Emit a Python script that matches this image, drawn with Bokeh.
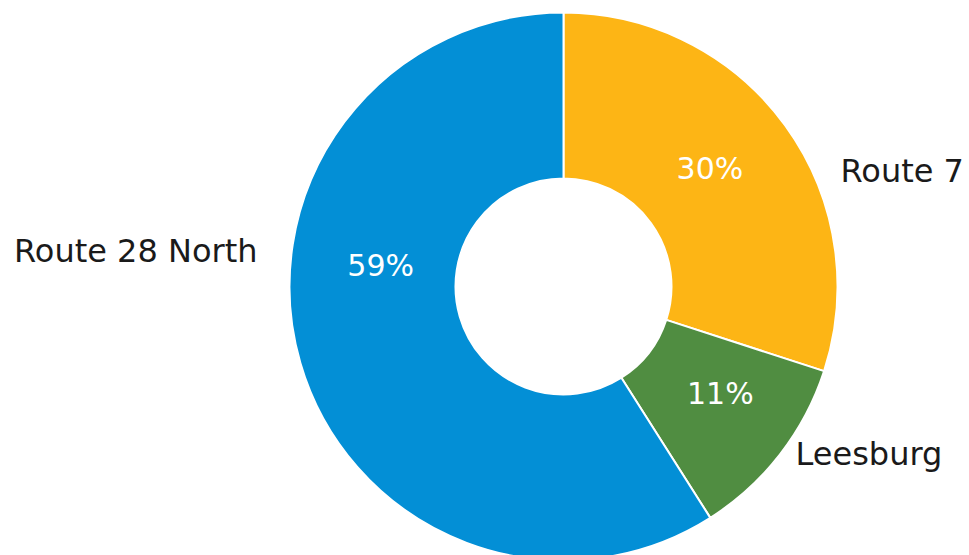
import math
from bokeh.plotting import figure
from bokeh.models import Range1d, ColumnDataSource
from bokeh.core.properties import value
from bokeh.embed import file_html
from bokeh.resources import INLINE

# ---- data ----
categories = ["Route 7", "Leesburg", "Route 28 North"]
shares = [30, 11, 59]
pct_labels = ["30%", "11%", "59%"]
colors = ["#FDB515", "#508D41", "#038FD6"]

# ---- layout ----
W, H = 969, 555
CX, CY = 563, H - 286
R_OUT, R_IN = 274, 108
FONT = "DejaVu Sans"

p = figure(width=W, height=H, output_backend="svg", toolbar_location=None,
           x_range=Range1d(0, W), y_range=Range1d(0, H), min_border=0)
p.axis.visible = False
p.grid.visible = False
p.outline_line_color = None
p.background_fill_color = "white"

total = sum(shares)
starts, ends, mids = [], [], []
cum = 0.0
for s in shares:
    a0 = math.pi / 2 - 2 * math.pi * cum / total
    cum += s
    a1 = math.pi / 2 - 2 * math.pi * cum / total
    starts.append(a0)
    ends.append(a1)
    mids.append((a0 + a1) / 2)

src = ColumnDataSource(dict(x=[CX] * 3, y=[CY] * 3, start=starts, end=ends, color=colors))
p.annular_wedge(x="x", y="y", inner_radius=R_IN, outer_radius=R_OUT,
                inner_radius_units="screen", outer_radius_units="screen",
                start_angle="start", end_angle="end", direction="clock",
                fill_color="color", line_color="white", line_width=2, source=src)

# percent labels inside ring
label_r = [188, 190, 184]
angle_shift = [0.05, 0.06, -0.395]
px = [CX + r * math.cos(m + d) for r, m, d in zip(label_r, mids, angle_shift)]
py = [CY + r * math.sin(m + d) for r, m, d in zip(label_r, mids, angle_shift)]
p.text(x=px, y=py, text=pct_labels, text_color="white", text_align="center",
       text_baseline="middle", text_font=value(FONT), text_font_size="30px")

# category labels outside
cat_x = [840, 795, 257]
cat_y = [H - 170, H - 453, H - 250]
cat_align = ["left", "left", "right"]
p.text(x=cat_x, y=cat_y, text=categories, text_color="#1a1a1a", text_align=cat_align,
       text_baseline="middle", text_font=value(FONT), text_font_size="32px")

open("out.html", "w").write(file_html(p, INLINE))
